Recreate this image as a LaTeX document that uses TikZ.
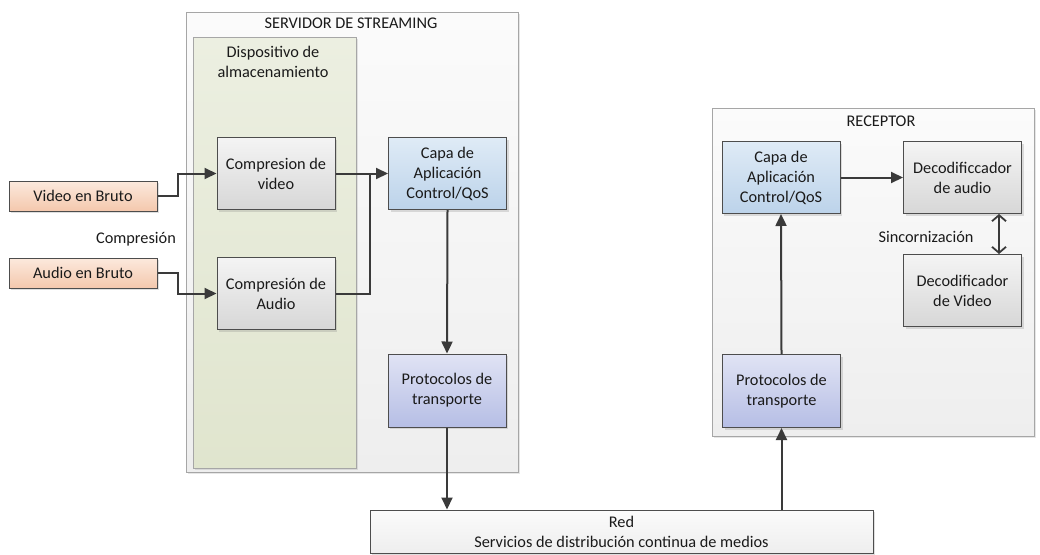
\documentclass[tikz,border=0pt]{standalone}
\usepackage{fontspec}
\setmainfont{Carlito}
\usetikzlibrary{arrows.meta,shadows}

\definecolor{edge}{HTML}{4D4D4D}
\definecolor{wire}{HTML}{3A3A3A}
\definecolor{txt}{HTML}{1A1A1A}
\definecolor{peachtop}{HTML}{FCE9DD}
\definecolor{peachbot}{HTML}{F4C8AD}
\definecolor{graytop}{HTML}{F4F4F4}
\definecolor{graybot}{HTML}{D7D7D7}
\definecolor{bluetop}{HTML}{DFEBF6}
\definecolor{bluebot}{HTML}{BCD3EA}
\definecolor{prottop}{HTML}{E0E3F4}
\definecolor{protbot}{HTML}{B6BEE5}
\definecolor{frame}{HTML}{A6A6A6}
\definecolor{conttop}{HTML}{FBFBFB}
\definecolor{contbot}{HTML}{EEEEEE}
\definecolor{greentop}{HTML}{ECEFE1}
\definecolor{greenbot}{HTML}{E0E5CE}

\tikzset{
  x=1pt, y=-1pt,
  every node/.style={font=\fontsize{16.3}{20}\selectfont, text=txt, align=center, inner sep=0pt},
  block/.style={draw=edge, line width=1pt, rectangle,
    drop shadow={shadow xshift=2pt, shadow yshift=-2pt, opacity=0.25, fill=gray}},
  rawbox/.style={block, top color=peachtop, bottom color=peachbot, minimum width=148pt, minimum height=30pt},
  graybox/.style={block, top color=graytop, bottom color=graybot, minimum width=118pt, minimum height=72pt},
  bluebox/.style={block, top color=bluetop, bottom color=bluebot, minimum width=118pt, minimum height=72pt},
  protobox/.style={block, top color=prottop, bottom color=protbot, minimum width=118pt, minimum height=73pt},
  container/.style={draw=frame, line width=0.8pt, rectangle, top color=conttop, bottom color=contbot,
    drop shadow={shadow xshift=2pt, shadow yshift=-2pt, opacity=0.2, fill=gray}},
  flow/.style={draw=wire, line width=2pt, -{Triangle[length=12pt,width=11pt]}},
  link/.style={draw=wire, line width=2pt},
  sync/.style={draw=wire, line width=1.8pt, {Straight Barb[length=6pt,width=14pt]}-{Straight Barb[length=6pt,width=14pt]}},
}

\begin{document}
\begin{tikzpicture}
\useasboundingbox (0,0) rectangle (1040,554);

% containers
\node[container, minimum width=332pt, minimum height=460pt] (server) at (352,242) {};
\node (servertitle) at (351,23) {SERVIDOR DE STREAMING};
\node[draw=frame, line width=0.8pt, top color=greentop, bottom color=greenbot,
      minimum width=163pt, minimum height=431pt,
      drop shadow={shadow xshift=2pt, shadow yshift=-2pt, opacity=0.2, fill=gray}] (storage) at (274.5,252.5) {};
\node (storagetitle) at (273,62) {Dispositivo de\\almacenamiento};

\node[container, minimum width=322pt, minimum height=328pt] (receiver) at (873,272) {};
\node (receivertitle) at (881,121) {RECEPTOR};

% sources
\node[rawbox] (vraw) at (83,196) {Video en Bruto};
\node[rawbox] (araw) at (83,273) {Audio en Bruto};
\node (comp) at (136,239) {Compresión};

% server blocks
\node[graybox] (cvid) at (276,173.5) {Compresion de\\video};
\node[graybox] (caud) at (276,293.5) {Compresión de\\Audio};
\node[bluebox] (capaS) at (447.5,173.5) {Capa de\\Aplicación\\Control/QoS};
\node[protobox] (protS) at (447,390.5) {Protocolos de\\transporte};

% network
\node[block, top color=conttop, bottom color=contbot, minimum width=503pt, minimum height=43pt] (red) at (621.5,531.5) {Red\\Servicios de distribución continua de medios};

% receiver blocks
\node[bluebox] (capaR) at (781,177.5) {Capa de\\Aplicación\\Control/QoS};
\node[graybox] (decA) at (962.5,177.5) {Decodificcador\\de audio};
\node[graybox] (decV) at (962.5,290.5) {Decodificador\\de Video};
\node[protobox] (protR) at (781.5,391) {Protocolos de\\transporte};
\node (sinc) at (926,237) {Sincornización};

% connectors
\coordinate (jv) at (178,0);
\coordinate (ja) at (370,0);
\draw[flow] (vraw.east) -| (jv |- cvid.west) -- (cvid.west);
\draw[flow] (araw.east) -| (jv |- caud.west) -- (caud.west);
\draw[flow] (cvid.east) -- (capaS.west);
\draw[link] (caud.east) -| (ja |- capaS.west);
\draw[flow] (capaS.south) -- (protS.north);
\draw[flow] (protS.south) -- (protS.south |- red.north);
\draw[flow] (red.north -| protR.south) -- (protR.south);
\draw[flow] (protR.north) -- (capaR.south);
\draw[flow] (capaR.east) -- (decA.west);
\draw[sync] ([xshift=-23pt]decA.south east) -- ([xshift=-23pt]decV.north east);
\end{tikzpicture}
\end{document}
